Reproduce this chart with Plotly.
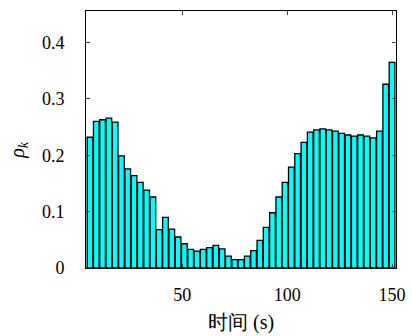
import plotly.graph_objects as go

# bin centres (s) and densities
time_s = [6 + 3 * k for k in range(49)]
rho_k = [0.232, 0.260, 0.263, 0.266, 0.259, 0.199, 0.176, 0.164, 0.152, 0.138,
         0.126, 0.068, 0.090, 0.069, 0.055, 0.043, 0.033, 0.030, 0.033, 0.036,
         0.040, 0.034, 0.021, 0.015, 0.015, 0.021, 0.031, 0.049, 0.072, 0.098,
         0.126, 0.152, 0.179, 0.203, 0.223, 0.241, 0.245, 0.247, 0.245, 0.243,
         0.239, 0.236, 0.234, 0.236, 0.234, 0.231, 0.243, 0.326, 0.365]

x_ticks = [50, 100, 150]
y_ticks = [0, 0.1, 0.2, 0.3, 0.4]
y_ticklabels = ["0", "0.1", "0.2", "0.3", "0.4"]
x_title = "时间 (s)"
y_title = "<i>ρ</i><sub><i>k</i></sub>"

font_family = "Liberation Serif"

fig = go.Figure(go.Bar(
    x=time_s, y=rho_k, width=2.7,
    marker=dict(color="#00FFFF", line=dict(color="black", width=1.3)),
))

fig.update_layout(
    width=412, height=336,
    margin=dict(l=86, r=16, t=11, b=68, autoexpand=False),
    plot_bgcolor="white", paper_bgcolor="white",
    showlegend=False,
    font=dict(family=font_family, size=18, color="black"),
    annotations=[
        dict(text=x_title, xref="paper", yref="paper", x=0.5, y=-0.214,
             xanchor="center", yanchor="middle", showarrow=False,
             font=dict(size=20)),
        dict(text=y_title, xref="paper", yref="paper", x=-0.22, y=0.459,
             xanchor="center", yanchor="middle", showarrow=False,
             textangle=-90, font=dict(size=20)),
    ],
)
fig.update_xaxes(
    range=[4.1, 151.9], tickvals=x_ticks, ticks="inside", ticklen=4,
    ticklabelstandoff=10, automargin=False,
    showline=True, linecolor="black", linewidth=1, mirror="allticks",
    showgrid=False, zeroline=False,
)
fig.update_yaxes(
    range=[0, 0.456], tickvals=y_ticks, ticktext=y_ticklabels,
    ticks="inside", ticklen=4, ticklabelstandoff=17, automargin=False,
    showline=True, linecolor="black", linewidth=1, mirror="allticks",
    showgrid=False, zeroline=False,
)

fig.write_html("out.html")
